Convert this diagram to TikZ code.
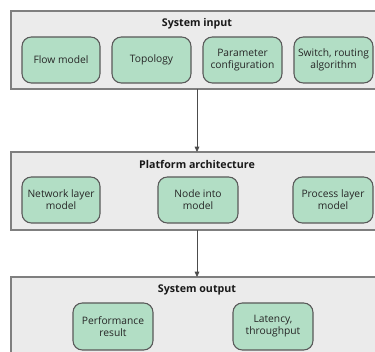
\documentclass[tikz,border=0pt]{standalone}
\usepackage{fontspec}
\setmainfont{Open Sans}
\usetikzlibrary{arrows.meta}
\definecolor{panelfill}{HTML}{EBEBEB}
\definecolor{panelline}{HTML}{7F7F7F}
\definecolor{itemfill}{HTML}{B2DEC5}
\definecolor{itemline}{HTML}{595959}
\tikzset{
  panel/.style={draw=panelline, fill=panelfill, line width=0.8pt},
  item/.style={draw=itemline, fill=itemfill, line width=0.8pt, rounded corners=7pt,
    align=center, font=\fontsize{7.7}{9}\selectfont, text=black!85},
  paneltitle/.style={font=\bfseries\fontsize{8}{9.5}\selectfont, text=black!90},
  flow/.style={draw=black!70, line width=0.6pt, -{Triangle[length=4pt,width=3.5pt]}}
}
\begin{document}
\begin{tikzpicture}[x=0.75pt, y=-0.75pt]
  \useasboundingbox (0,0) rectangle (375,352);
  \clip (0,0) rectangle (375,352);

  % panel 1: inputs
  \draw[panel] (11,11) rectangle (382,89);
  \node[paneltitle] (t1) at (197,24) {System input};
  \draw[item] (22,37) rectangle node (flowm) {Flow model} (100,83);
  \draw[item] (112,37) rectangle node (topo) {Topology} (191,83);
  \draw[item] (203,37) rectangle node (param) {Parameter\\configuration} (282,83);
  \draw[item] (294,37) rectangle node (switch) {Switch, routing\\algorithm} (373,83);

  % panel 2: platform
  \draw[panel] (11,152) rectangle (382,230);
  \node[paneltitle] (t2) at (197,164) {Platform architecture};
  \draw[item] (22,177) rectangle node (netl) {Network layer\\model} (100,223);
  \draw[item] (158,177) rectangle node (nodei) {Node into\\model} (238,223);
  \draw[item] (293,177) rectangle node (procl) {Process layer\\model} (373,223);

  % panel 3: outputs
  \draw[panel] (11,277) rectangle (382,360);
  \node[paneltitle] (t3) at (197,290) {System output};
  \draw[item] (73,303) rectangle node (perf) {Performance\\result} (153,350);
  \draw[item] (233,303) rectangle node (lat) {Latency,\\throughput} (313,350);

  % connectors between panels
  \coordinate (a1) at (197,89);
  \coordinate (b1) at (197,152);
  \coordinate (a2) at (197,230);
  \coordinate (b2) at (197,277);
  \draw[flow] (a1) -- (b1);
  \draw[flow] (a2) -- (b2);
\end{tikzpicture}
\end{document}
